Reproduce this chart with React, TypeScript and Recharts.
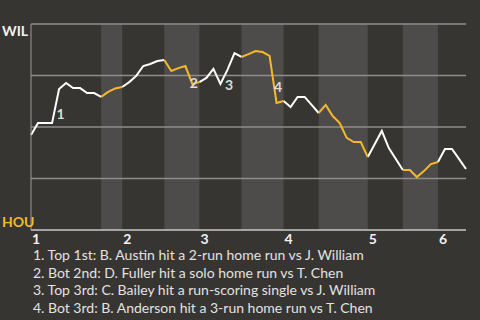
import { ComposedChart, Line, Scatter, XAxis, YAxis, ReferenceArea, ReferenceLine } from 'recharts';

// win probability for WIL after each play (0 = HOU wins, 100 = WIL wins)
const wp = [
  46.1, 51.9, 51.9, 51.9, 68.4, 71.4, 68.9, 68.9, 66.5, 66.5,
  64.6, 67.0, 68.7, 69.4, 71.8, 74.8, 79.6, 80.6, 82.0, 82.5,
  77.2, 78.6, 79.6, 70.9, 71.8, 73.8, 78.2, 70.9, 77.7, 85.9,
  84.0, 85.4, 86.9, 86.4, 84.5, 61.7, 62.6, 59.7, 64.6, 64.6,
  60.7, 56.8, 60.7, 55.3, 51.9, 44.7, 42.7, 42.7, 35.4, 41.7,
  48.1, 39.8, 34.5, 29.1, 29.1, 25.7, 28.6, 32.0, 33.0, 39.3,
  39.3, 34.5, 29.6,
];

// play index where each half inning starts (top 1st, bot 1st, top 2nd ...)
const halfStarts = [0, 10, 13, 19, 24, 30, 36, 41, 48, 53, 58];
const lastPlay = 62;

const inningStarts = [0, 13, 24, 36, 48, 58];
const inningLabels = ['1', '2', '3', '4', '5', '6'];

const events = [
  { n: '1', play: 4 },
  { n: '2', play: 23 },
  { n: '3', play: 28 },
  { n: '4', play: 35 },
];

const notes = [
  '1. Top 1st: B. Austin hit a 2-run home run vs J. William',
  '2. Bot 2nd: D. Fuller hit a solo home run vs T. Chen',
  '3. Top 3rd: C. Bailey hit a run-scoring single vs J. William',
  '4. Bot 3rd: B. Anderson hit a 3-run home run vs T. Chen',
];

const BG = '#373531';
const BAND = '#4e4c4a';
const WHITE = '#ffffff';
const GOLD = '#f7b928';
const FONT = 'Lato, "Noto Sans", sans-serif';

const halves = halfStarts.map((s, i) => ({
  start: s,
  end: i + 1 < halfStarts.length ? halfStarts[i + 1] : lastPlay,
  bottom: i % 2 === 1,
}));

const inHalf = (p: number, bottom: boolean) =>
  halves.some((h) => h.bottom === bottom && p >= h.start && p <= h.end);

const data = wp.map((v, p) => ({
  play: p,
  top: inHalf(p, false) ? v : null,
  bot: inHalf(p, true) ? v : null,
}));

const eventPts = events.map((e) => ({
  play: e.play - 0.5,
  mark: (wp[e.play - 1] + wp[e.play]) / 2,
  n: e.n,
}));

const XTick = (props: any) => {
  const i = inningStarts.indexOf(props.payload.value);
  return (
    <text x={props.x + 1} y={props.y + 14} fill="#f2f2f2" fontSize={14} fontWeight={700} fontFamily={FONT} textAnchor="start">
      {inningLabels[i]}
    </text>
  );
};

const YTick = (props: any) => {
  const top = props.payload.value === 100;
  return (
    <text
      x={props.x - 29}
      y={top ? props.y + 12 : props.y - 3}
      fill={top ? '#f2f2f2' : GOLD}
      fontSize={14}
      fontWeight={700}
      fontFamily={FONT}
      textAnchor="start"
    >
      {top ? 'WIL' : 'HOU'}
    </text>
  );
};

const EventLabel = (props: any) => (
  <text
    x={props.cx + 5}
    y={props.cy + 7.5}
    fill="#dcdcdc"
    fontSize={14}
    fontWeight={700}
    fontFamily={FONT}
    textAnchor="middle"
    dominantBaseline="central"
  >
    {props.payload.n}
  </text>
);

export default function App() {
  return (
    <div style={{ position: 'absolute', left: 0, top: 0, width: 480, height: 320, background: BG, overflow: 'hidden' }}>
      <ComposedChart width={480} height={250} data={data} margin={{ top: 24, right: 14, bottom: 0, left: 0 }}>
        <XAxis
          dataKey="play"
          type="number"
          domain={[0, lastPlay]}
          ticks={inningStarts}
          tick={<XTick />}
          tickLine={false}
          tickSize={0}
          tickMargin={0}
          height={20}
          axisLine={{ stroke: '#c8c8c8', strokeWidth: 1.5 }}
        />
        <YAxis
          type="number"
          domain={[0, 100]}
          ticks={[0, 100]}
          tick={<YTick />}
          tickLine={false}
          tickSize={0}
          tickMargin={0}
          width={31}
          axisLine={{ stroke: '#9a9a9a' }}
        />
        {halves
          .filter((h) => h.bottom)
          .map((h) => (
            <ReferenceArea key={h.start} x1={h.start} x2={h.end} y1={0} y2={100} fill={BAND} fillOpacity={1} stroke="none" />
          ))}
        {[25, 50, 75, 100].map((v) => (
          <ReferenceLine key={v} y={v} stroke="#8e8d8b" strokeWidth={1.5} />
        ))}
        <Line dataKey="top" stroke={WHITE} strokeWidth={2} dot={false} isAnimationActive={false} connectNulls={false} />
        <Line dataKey="bot" stroke={GOLD} strokeWidth={2} dot={false} isAnimationActive={false} connectNulls={false} />
        <Scatter data={eventPts} dataKey="mark" shape={<EventLabel />} isAnimationActive={false} />
      </ComposedChart>
      <div
        style={{
          position: 'absolute',
          left: 33,
          top: 246,
          fontFamily: FONT,
          fontSize: 14,
          lineHeight: '17.6px',
          color: '#e2e2e2',
          whiteSpace: 'nowrap',
        }}
      >
        {notes.map((t) => (
          <div key={t}>{t}</div>
        ))}
      </div>
    </div>
  );
}
